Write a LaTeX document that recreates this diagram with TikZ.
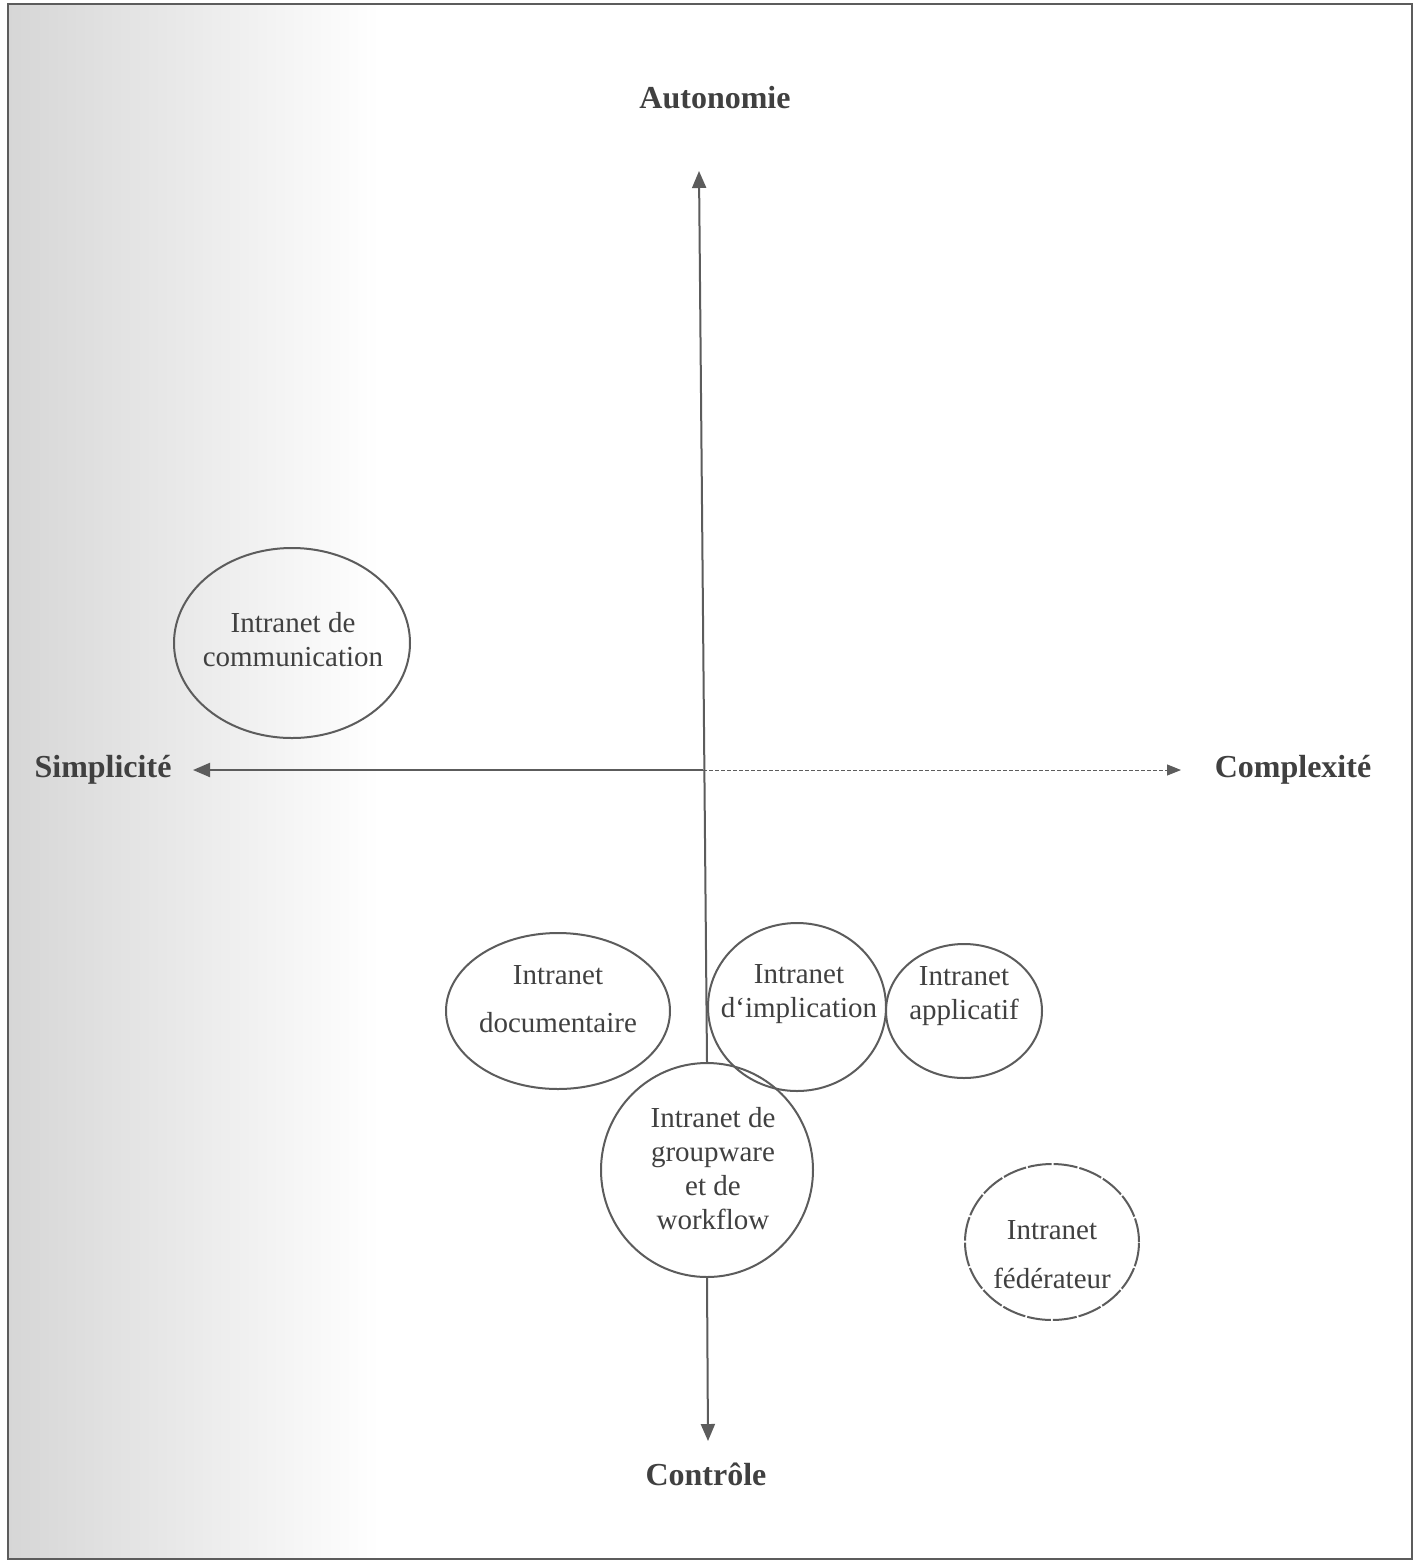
\documentclass[tikz,border=0pt]{standalone}
\usepackage{fontspec}
\setmainfont{Liberation Serif}
\usetikzlibrary{shapes.geometric,arrows.meta}
\definecolor{ink}{HTML}{404040}
\definecolor{linegray}{HTML}{5C5C5C}
\tikzset{
  oval/.style={ellipse, draw=linegray, line width=1pt, inner sep=0pt},
  lbl/.style={text=ink, align=center, inner sep=0pt, font=\fontsize{14.5}{17}\selectfont},
  axislbl/.style={text=ink, inner sep=0pt, font=\bfseries\fontsize{16}{19}\selectfont},
  axisline/.style={draw=linegray, line width=1pt, -{Triangle[length=8.5pt,width=7pt]}},
  axisfaint/.style={draw=linegray, line width=0.5pt, dash pattern=on 2pt off 1pt, -{Triangle[length=7pt,width=5.5pt]}}
}
\begin{document}
\begin{tikzpicture}[x=0.5pt,y=-0.5pt]
\useasboundingbox (0,0) rectangle (1419,1564);
\fill[white] (0,0) rectangle (1419,1564);
\shade[left color=black!16, right color=white] (9,5) rectangle (380,1558);
\draw[linegray, line width=1.3pt] (8,4) rectangle (1412,1559);

% axis labels
\node[axislbl] (auto) at (715,98) {Autonomie};
\node[axislbl] (simp) at (103,770) {Simplicité};
\node[axislbl] (comp) at (1293,770) {Complexité};
\node[axislbl] (ctrl) at (706,1474) {Contrôle};

% axis end points
\coordinate (atop) at (699,171);
\coordinate (abot) at (708,1441);
\coordinate (aleft) at (193,770);
\coordinate (aright) at (1181,770);
\coordinate (c) at (703,770);

% ellipses
\node[oval, minimum width=118pt, minimum height=95pt] (comm) at (292,643) {};
\node[oval, minimum width=112pt, minimum height=78pt] (doc) at (558,1011) {};
\node[oval, minimum width=89pt, minimum height=84pt] (impl) at (797,1007) {};
\node[oval, minimum width=78pt, minimum height=67pt] (appl) at (964,1011) {};
\node[oval, minimum width=106pt, minimum height=107pt] (gw) at (707,1170) {};
\node[oval, dash pattern=on 12pt off 1pt, minimum width=87pt, minimum height=78pt] (fed) at (1052,1242) {};

% texts
\node[lbl] (commt) at (293,640) {Intranet de\\communication};
\node[lbl] (doct) at (558,999) {Intranet\\[7pt]documentaire};
\node[lbl] (implt) at (799,994) {Intranet\\d`implication};
\node[lbl] (applt) at (964,996) {Intranet\\applicatif};
\node[lbl] (gwt) at (713,1169) {Intranet de\\groupware\\et de\\workflow};
\node[lbl] (fedt) at (1052,1255) {Intranet\\[7.5pt]fédérateur};

% axes
\draw[axisline] (gw.north) -- (atop);
\draw[axisline] (gw.south) -- (abot);
\draw[axisline] (c) -- (aleft);
\draw[axisfaint] (c) -- (aright);
\end{tikzpicture}
\end{document}
